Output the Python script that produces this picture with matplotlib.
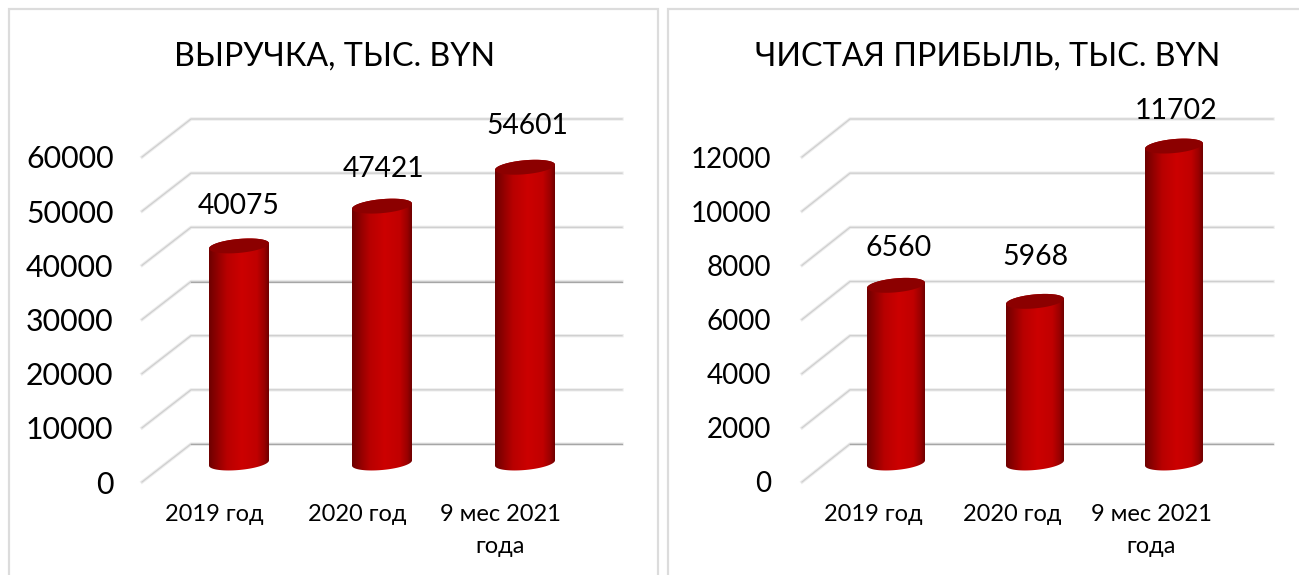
import numpy as np
import matplotlib
matplotlib.use('Agg')
import matplotlib.pyplot as plt
from matplotlib.colors import LinearSegmentedColormap
from matplotlib.patches import PathPatch, Rectangle
from matplotlib.path import Path

W, H = 1299, 575
plt.rcParams['font.family'] = ['Lato', 'Open Sans', 'DejaVu Sans']

categories = ['2019 год', '2020 год', '9 мес 2021\nгода']
revenue = [40075, 47421, 54601]
revenue_ticks = [0, 10000, 20000, 30000, 40000, 50000, 60000]
profit = [6560, 5968, 11702]
profit_ticks = [0, 2000, 4000, 6000, 8000, 10000, 12000]

title_left = 'ВЫРУЧКА, ТЫС. BYN'
title_right = 'ЧИСТАЯ ПРИБЫЛЬ, ТЫС. BYN'

cyl_cmap = LinearSegmentedColormap.from_list(
    'cyl', [(0, '#6e0000'), (0.12, '#8c0000'), (0.3, '#b80000'), (0.55, '#cc0000'),
            (0.8, '#c00000'), (0.93, '#980000'), (1, '#6e0000')])


def px_rect(x0, y0, x1, y1):
    # пиксели картинки -> координаты фигуры
    return [x0 / W, 1 - y1 / H, (x1 - x0) / W, (y1 - y0) / H]


def draw_frame(fig, x0, y0, x1, y1):
    fig.add_artist(Rectangle((x0 / W, 1 - y1 / H), (x1 - x0) / W, (y1 - y0) / H,
                             transform=fig.transFigure, fill=False,
                             edgecolor='#dcdcdc', linewidth=1.6))


def draw_chart(fig, box, values, ticks, title, title_x, label_x, bar_w, depth, label_off,
               tick_size, val_size, tick_pad, dark_ticks):
    ax = fig.add_axes(px_rect(*box))
    x0, y_top, x1, y0 = box
    step = label_x[1] - label_x[0]
    xlim = ((x0 - label_x[0]) / step, (x1 - label_x[0]) / step)
    ylim = (ticks[0], ticks[-1])
    px_x = 1 / step
    px_y = (ticks[-1] - ticks[0]) / (y0 - y_top)

    # сетка: передняя косая часть и задняя стенка
    back_dx, back_dy = depth[0] * px_x, depth[1] * px_y
    for t in ticks:
        xs = [xlim[0], xlim[0] + back_dx, xlim[1] + back_dx]
        ys = [t, t + back_dy, t + back_dy]
        ax.plot(xs, ys, color='#ececec', lw=2.4, clip_on=False, zorder=1,
                solid_joinstyle='round')
        ax.plot(xs, ys, color='#cfcfcf', lw=0.9, clip_on=False, zorder=1.1,
                solid_joinstyle='round')
        if t in dark_ticks:
            ax.plot(xs[1:], ys[1:], color='#a6a6a6', lw=0.9, clip_on=False, zorder=1.2)

    # цилиндры
    off_x, off_y = depth[2] * px_x, depth[3] * px_y
    a = bar_w / 2 * px_x
    b = 7 * px_y
    tilt = 2.6 * px_y
    t = np.linspace(0, np.pi, 40)
    for i, v in enumerate(values):
        cx = i + off_x
        top = v + off_y
        base = off_y
        # верхняя дуга (задняя) и нижняя дуга (передняя)
        top_xs = cx + a * np.cos(t)
        top_ys = top + b * np.sin(t) + tilt * np.cos(t)
        bot_xs = cx - a * np.cos(t)
        bot_ys = base - b * np.sin(t) - tilt * np.cos(t)
        body = Path(np.column_stack([np.r_[top_xs, bot_xs], np.r_[top_ys, bot_ys]]))
        img = ax.imshow(np.linspace(0, 1, 256).reshape(1, -1), cmap=cyl_cmap, aspect='auto',
                        extent=(cx - a, cx + a, base - 2 * b, top + 2 * b), zorder=3)
        img.set_clip_box(fig.bbox)
        img.set_clip_path(PathPatch(body, transform=ax.transData))

        cap_xs = cx + a * np.cos(2 * t)
        cap_ys = top + b * np.sin(2 * t) + tilt * np.cos(2 * t)
        ax.fill(cap_xs, cap_ys, color='#8c0000', lw=0, clip_on=False, zorder=4)

        ax.annotate(str(v), (cx, top), xytext=(label_off[i][0], label_off[i][1]),
                    textcoords='offset pixels', ha='center', va='center',
                    fontsize=val_size, color='black', zorder=5, annotation_clip=False)

    ax.set_xlim(xlim)
    ax.set_ylim(ylim)
    ax.set_xticks(range(len(categories)))
    ax.set_xticklabels(categories, fontsize=17, linespacing=1.62, color='black')
    ax.set_yticks(ticks)
    ax.set_yticklabels([str(t) for t in ticks], fontsize=tick_size, color='black')
    ax.tick_params(axis='both', length=0)
    ax.tick_params(axis='y', pad=tick_pad)
    ax.tick_params(axis='x', pad=16)
    for s in ax.spines.values():
        s.set_visible(False)
    ax.patch.set_alpha(0)

    fig.text(title_x / W, 1 - 57 / H, title, ha='center', va='center', fontsize=23.2, color='black')


def main():
    fig = plt.figure(figsize=(W / 100, H / 100), dpi=100, facecolor='white')
    draw_frame(fig, 9, 9, 658, 590)
    draw_frame(fig, 668, 9, 1320, 590)

    draw_chart(fig, (142, 157, 573, 482), revenue, revenue_ticks, title_left, 335,
               [214, 357, 500], 60, (49, 38, 25, 19),
               [(0, 40), (2, 37), (2, 41)], 21.8, 20.3, 20.5, [0, 30000])
    draw_chart(fig, (802, 157, 1225, 482), profit, profit_ticks, title_right, 988,
               [873, 1012, 1151], 58, (48, 38, 23, 19),
               [(3, 37), (0, 44), (2, 35)], 20, 20.5, 22, [0])

    fig.savefig('out.png', dpi=100)


if __name__ == "__main__":
    main()
